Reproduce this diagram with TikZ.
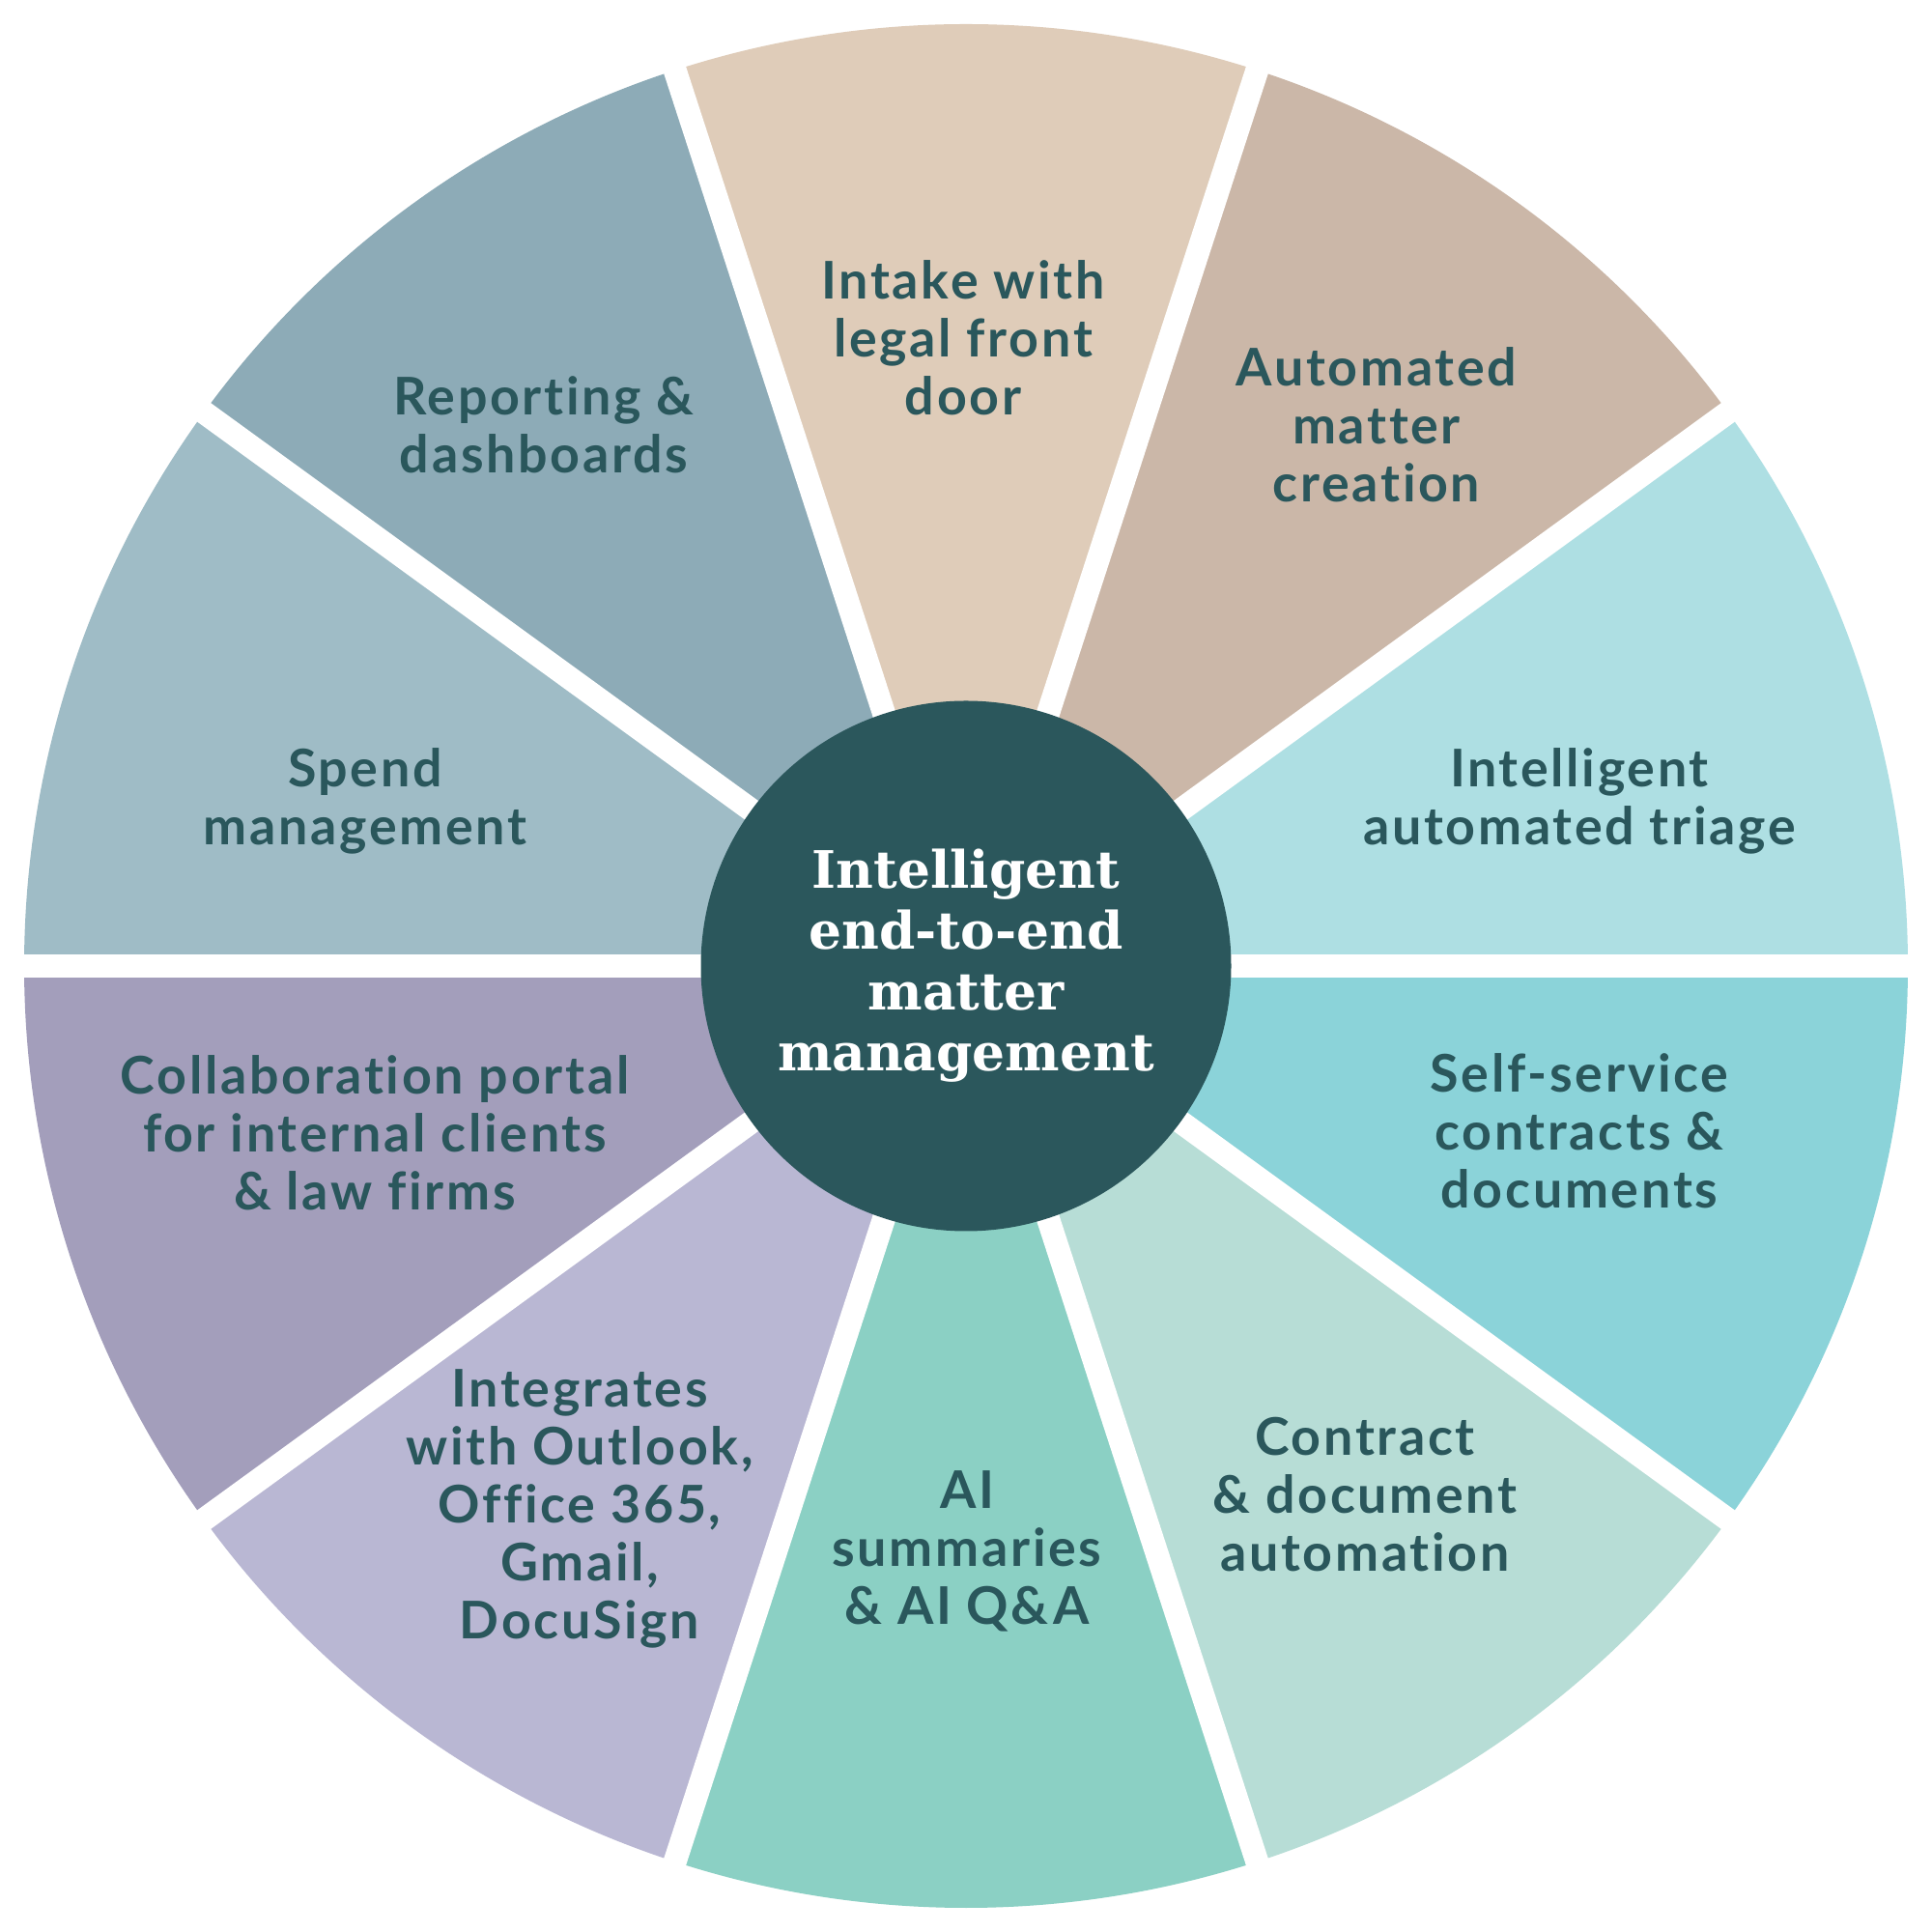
\documentclass[tikz,border=0pt]{standalone}
\usepackage{fontspec}
\newfontfamily\segfont{Lato}[LetterSpace=5,Ligatures=NoCommon]
\newfontfamily\ctrfont{DejaVu Serif}
\definecolor{ctrcol}{HTML}{2B575C}
\definecolor{txtcol}{HTML}{2A575C}
\definecolor{cTriage}{HTML}{AEDFE3}
\definecolor{cAuto}{HTML}{CBB7A8}
\definecolor{cIntake}{HTML}{DFCCB9}
\definecolor{cReport}{HTML}{8DABB7}
\definecolor{cSpend}{HTML}{9FBCC6}
\definecolor{cCollab}{HTML}{A39EBB}
\definecolor{cInteg}{HTML}{B9B7D3}
\definecolor{cAI}{HTML}{8BD0C4}
\definecolor{cContract}{HTML}{B7DDD6}
\definecolor{cSelf}{HTML}{8BD3D9}
\tikzset{
  seglabel/.style={text=txtcol, align=center, font=\segfont\bfseries\fontsize{15.3}{17.1}\selectfont, inner sep=0pt},
  ctrlabel/.style={circle, fill=ctrcol, minimum size=5.49cm, text=white, align=center, font=\ctrfont\bfseries\fontsize{15.2}{17.9}\selectfont, inner sep=0pt},
  gapline/.style={white, line width=0.24cm}
}
\begin{document}
\begin{tikzpicture}
\useasboundingbox (0,0) rectangle (20,20);
\fill[white] (0,0) rectangle (20,20);
\coordinate (C) at (10,10);
\begin{scope}[shift={(10,10)}]
\foreach \a/\c in {0/cTriage,36/cAuto,72/cIntake,108/cReport,144/cSpend,180/cCollab,216/cInteg,252/cAI,288/cContract,324/cSelf}{
  \fill[\c] (0,0) -- (\a:9.75) arc[start angle=\a, end angle=\a+36, radius=9.75cm] -- cycle;
}
\foreach \a in {0,36,...,324}{
  \draw[gapline] (0,0) -- (\a:10.3);
}
\end{scope}
\node[ctrlabel] (ctr) at (C) {Intelligent\\end-to-end\\matter\\management};
\node[seglabel] (intake) at (9.97,16.50) {Intake with\\legal front\\door};
\node[seglabel] (auto) at (14.25,15.60) {Automated\\matter\\creation};
\node[seglabel] (triage) at (16.35,11.71) {Intelligent\\automated triage};
\node[seglabel] (self) at (16.35,8.29) {Self-service\\contracts \&\\documents};
\node[seglabel] (contract) at (14.13,4.53) {Contract\\\& document\\automation};
\node[seglabel] (ai) at (10.01,3.94) {AI\\summaries\\\& AI Q\&A};
\node[seglabel] (integ) at (6.00,4.38) {Integrates\\with Outlook,\\Office 365,\\Gmail,\\DocuSign};
\node[seglabel] (collab) at (3.88,8.27) {Collaboration portal\\for internal clients\\\& law firms};
\node[seglabel] (spend) at (3.78,11.71) {Spend\\management};
\node[seglabel] (report) at (5.63,15.60) {Reporting \&\\dashboards};
\end{tikzpicture}
\end{document}
